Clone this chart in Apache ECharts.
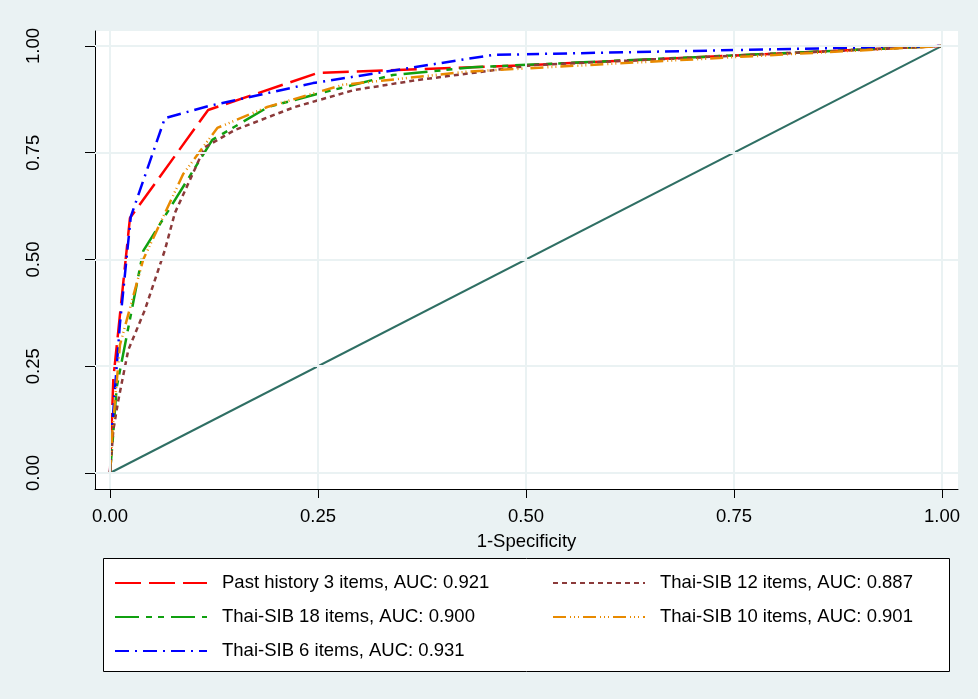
<!DOCTYPE html>
<html>
<head>
<meta charset="utf-8">
<script src="https://cdn.jsdelivr.net/npm/echarts@6/dist/echarts.min.js"></script>
<style>
html,body{margin:0;padding:0;background:#eaf2f3;}
#chart{width:978px;height:699px;}
</style>
</head>
<body>
<div id="chart"></div>
<script>
// ---- data ----
var tickValues = [0, 0.25, 0.5, 0.75, 1];
var xAxisName = '1-Specificity';

var pastX = [0, 0.004, 0.024, 0.118, 0.25, 0.5, 1];
var pastY = [0, 0.22, 0.597, 0.85, 0.937, 0.955, 1];

var sib18X = [0, 0.003, 0.008, 0.04, 0.123, 0.19, 0.25, 0.34, 0.436, 1];
var sib18Y = [0, 0.07, 0.2, 0.52, 0.78, 0.857, 0.888, 0.932, 0.95, 1];

var sib6X = [0, 0.003, 0.012, 0.025, 0.066, 0.12, 0.244, 0.46, 1];
var sib6Y = [0, 0.12, 0.35, 0.6, 0.831, 0.86, 0.913, 0.979, 1];

var sib12X = [0, 0.004, 0.01, 0.022, 0.042, 0.066, 0.078, 0.114, 0.15, 0.222, 0.294, 0.369, 0.508, 1];
var sib12Y = [0, 0.1, 0.17, 0.288, 0.382, 0.522, 0.609, 0.763, 0.803, 0.857, 0.897, 0.92, 0.955, 1];

var sib10X = [0, 0.003, 0.012, 0.04, 0.088, 0.129, 0.189, 0.28, 0.43, 1];
var sib10Y = [0, 0.1, 0.3, 0.5, 0.70, 0.808, 0.857, 0.909, 0.94, 1];

var refX = [0, 1];
var refY = [0, 1];

var names = [
  'Past history 3 items, AUC: 0.921',
  'Thai-SIB 18 items, AUC: 0.900',
  'Thai-SIB 6 items, AUC: 0.931',
  'Thai-SIB 12 items, AUC: 0.887',
  'Thai-SIB 10 items, AUC: 0.901'
];

function zip(xs, ys){ return xs.map(function(x,i){ return [x, ys[i]]; }); }

var FONT = '"Liberation Sans", Arial, sans-serif';
var FS = 18.5;

var chart = echarts.init(document.getElementById('chart'), null, {renderer:'canvas'});

function curve(name, xs, ys, color, dash){
  return {
    name: name, type: 'line', data: zip(xs, ys), symbol: 'none', z: 3,
    lineStyle: {color: color, width: 2.5, type: dash},
    itemStyle: {color: color},
    animation: false
  };
}

var gridMarks = [];
tickValues.forEach(function(v){ gridMarks.push({xAxis: v}); gridMarks.push({yAxis: v}); });

function legendCol(data, left){
  return {
    data: data, orient: 'vertical', left: left, top: 568,
    itemWidth: 92, itemHeight: 14, itemGap: 14,
    itemStyle: {opacity: 0},
    textStyle: {fontFamily: FONT, fontSize: FS, color: '#000', padding: [0,0,0,10], lineHeight: 20},
    selectedMode: false
  };
}

var option = {
  backgroundColor: '#eaf2f3',
  animation: false,
  grid: {left: 95, right: 20, top: 31, bottom: 210, show: true, backgroundColor: '#ffffff', borderWidth: 0},
  xAxis: {
    type: 'value', min: -0.018, max: 1.0192,
    name: xAxisName, nameLocation: 'middle', nameGap: 43,
    nameTextStyle: {fontFamily: FONT, fontSize: FS, color: '#000'},
    axisLine: {show: true, onZero: false, lineStyle: {color: '#000', width: 1}},
    axisTick: {show: true, length: 9, customValues: tickValues, lineStyle: {color: '#000'}},
    axisLabel: {customValues: tickValues, margin: 18, fontFamily: FONT, fontSize: FS, color: '#000',
      formatter: function(v){ return v.toFixed(2); }},
    splitLine: {show: false}
  },
  yAxis: {
    type: 'value', min: -0.0375, max: 1.035,
    axisLine: {show: true, onZero: false, lineStyle: {color: '#000', width: 1}},
    axisTick: {show: true, length: 10, customValues: tickValues, lineStyle: {color: '#000'}},
    axisLabel: {customValues: tickValues, rotate: 90, margin: 52, fontFamily: FONT, fontSize: FS, color: '#000',
      formatter: function(v){ return v.toFixed(2); }},
    splitLine: {show: false}
  },
  legend: [
    legendCol([names[0], names[1], names[2]], 109),
    legendCol([names[3], names[4]], 547)
  ],
  graphic: [{
    type: 'rect', left: 103, top: 558, z: -1,
    shape: {width: 846, height: 113},
    style: {fill: '#ffffff', stroke: '#000', lineWidth: 1}
  }],
  series: [
    {
      name: 'grid', type: 'line', data: [], z: 1, symbol: 'none',
      markLine: {
        silent: true, symbol: 'none', label: {show: false}, animation: false,
        lineStyle: {color: '#eaf2f3', width: 2, type: 'solid'},
        data: gridMarks
      }
    },
    {
      name: 'ref', type: 'line', data: zip(refX, refY), symbol: 'none', z: 2,
      lineStyle: {color: '#2f6f64', width: 2, type: 'solid'}, animation: false
    },
    curve(names[0], pastX, pastY, '#ff0000', [26, 8]),
    curve(names[1], sib18X, sib18Y, '#10a010', [24, 7, 6, 6, 6, 7]),
    curve(names[2], sib6X, sib6Y, '#0000ff', [14, 6, 2, 6]),
    curve(names[3], sib12X, sib12Y, '#8b3a3a', [5, 4]),
    curve(names[4], sib10X, sib10Y, '#e88a00', [13, 4, 1, 3, 1, 3, 1, 4])
  ]
};
chart.setOption(option);
</script>
</body>
</html>
